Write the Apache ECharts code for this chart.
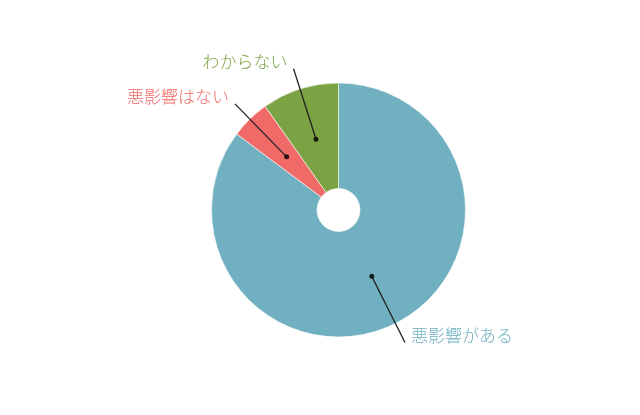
<!DOCTYPE html>
<html>
<head>
<meta charset="utf-8">
<script src="https://cdn.jsdelivr.net/npm/echarts@6/dist/echarts.min.js"></script>
<style>html,body{margin:0;padding:0;background:#fff}#c{width:640px;height:415px}</style>
</head>
<body>
<div id="c"></div>
<script>
const categories = ['悪影響がある', '悪影響はない', 'わからない'];
const values = [85.2, 5.0, 9.8];
const colors = ['#71b0c0', '#f06b67', '#7ba344'];

const CENTER = [338.5, 210];
const INNER = 21.5, OUTER = 127;
const DOT_R = (INNER + OUTER) / 2;
const LINE_LEN = 74;
const FONT = '"Noto Sans CJK JP", "Noto Sans", sans-serif';

const total = values.reduce((a, b) => a + b, 0);
let cum = 0;
const dots = values.map(v => {
  const mid = (cum + v / 2) / total * 360;
  cum += v;
  return [DOT_R, mid];
});

const chart = echarts.init(document.getElementById('c'));
chart.setOption({
  animation: false,
  polar: { center: CENTER, radius: [0, OUTER] },
  radiusAxis: { min: 0, max: OUTER, show: false },
  angleAxis: { min: 0, max: 360, startAngle: 90, clockwise: true, show: false },
  series: [
    {
      type: 'pie',
      center: CENTER,
      radius: [INNER, OUTER],
      startAngle: 90,
      clockwise: true,
      silent: true,
      label: { show: false },
      labelLine: { show: false },
      itemStyle: { borderColor: '#fff', borderWidth: 0.6 },
      data: categories.map((c, i) => ({ name: c, value: values[i], itemStyle: { color: colors[i] } })),
      z: 1
    },
    {
      type: 'pie',
      center: CENTER,
      radius: [0, DOT_R],
      startAngle: 90,
      clockwise: true,
      silent: true,
      avoidLabelOverlap: false,
      itemStyle: { color: 'rgba(0,0,0,0)' },
      label: {
        show: true,
        position: 'outside',
        formatter: '{b}\n ',
        fontFamily: FONT,
        fontSize: 17,
        fontWeight: 300,
        lineHeight: 14,
        distanceToLabelLine: 6
      },
      labelLine: {
        show: true,
        length: LINE_LEN,
        length2: 0,
        lineStyle: { color: '#222', width: 1.3 }
      },
      data: categories.map((c, i) => ({ name: c, value: values[i], label: { color: colors[i] } })),
      z: 3
    },
    {
      type: 'scatter',
      coordinateSystem: 'polar',
      symbolSize: 5,
      silent: true,
      itemStyle: { color: '#000' },
      data: dots,
      z: 4
    }
  ]
});
</script>
</body>
</html>
